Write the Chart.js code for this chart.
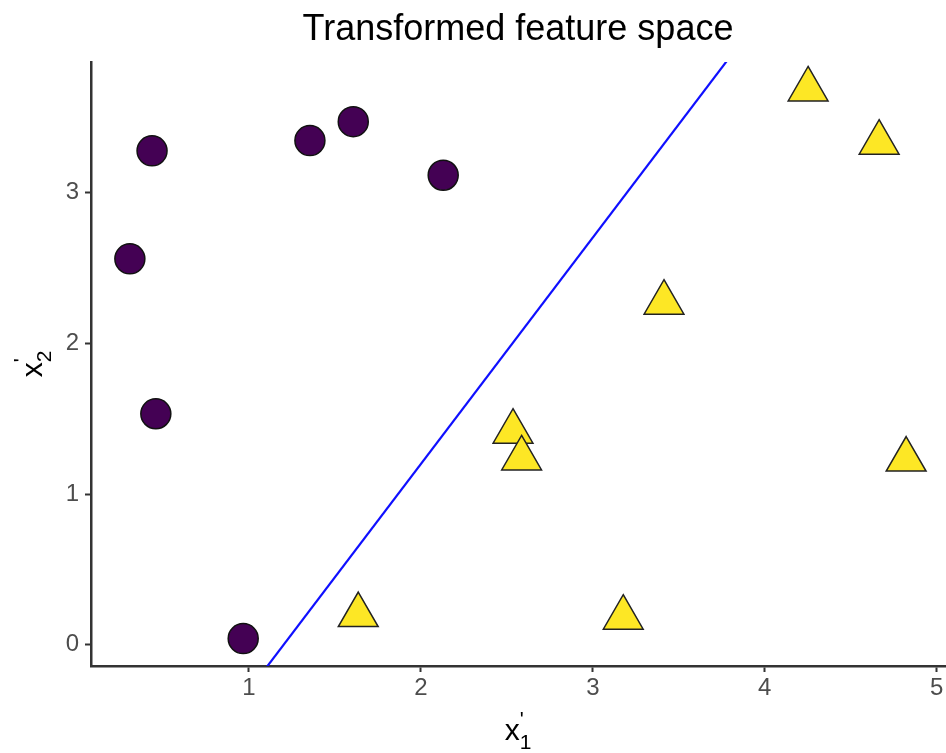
<!DOCTYPE html>
<html>
<head>
<meta charset="utf-8">
<script src="https://cdn.jsdelivr.net/npm/chart.js@4/dist/chart.umd.min.js"></script>
<style>
  html, body { margin: 0; padding: 0; background: #ffffff; }
  #wrap { width: 946px; height: 753px; }
</style>
</head>
<body>
<div id="wrap"><canvas id="c" width="946" height="753"></canvas></div>
<script>
// ---- data ----
const circleX = [0.967, 0.308, 0.437, 0.459, 1.355, 1.607, 2.130];
const circleY = [0.040, 2.562, 3.279, 1.533, 3.347, 3.473, 3.117];

const triangleX = [4.252, 4.665, 3.414, 2.536, 2.586, 4.822, 1.636, 3.177];
const triangleY = [3.687, 3.333, 2.271, 1.414, 1.236, 1.229, 0.196, 0.179];

const boundaryX = [1.00, 3.90];
const boundaryY = [-0.305, 4.057];

const xTickValues = [1, 2, 3, 4, 5];
const yTickValues = [0, 1, 2, 3];

const xLimits = [0.082, 5.048];
const yLimits = [-0.142, 3.869];

const titleText = 'Transformed feature space';

const FONT = '"Liberation Sans", Arial, Helvetica, sans-serif';

const toPoints = (xs, ys) => xs.map((x, i) => ({ x: x, y: ys[i] }));

// custom axis titles: x' with subscript
const axisTitles = {
  id: 'axisTitles',
  afterDraw(chart) {
    const ctx = chart.ctx;
    const a = chart.chartArea;
    const mainFont = '30px ' + FONT;
    const smallFont = '21px ' + FONT;
    ctx.save();
    ctx.fillStyle = '#000000';
    ctx.textBaseline = 'alphabetic';
    ctx.textAlign = 'left';

    function drawLabel(sub) {
      ctx.font = mainFont;
      const wx = ctx.measureText('x').width;
      ctx.font = smallFont;
      const ws = ctx.measureText(sub).width;
      const total = wx + ws;
      const start = -total / 2;
      ctx.font = mainFont;
      ctx.fillText('x', start, 0);
      ctx.font = smallFont;
      ctx.fillText("'", start + wx, -14);
      ctx.fillText(sub, start + wx, 9);
    }

    // x-axis title
    ctx.save();
    ctx.translate((a.left + a.right) / 2, a.bottom + 74);
    drawLabel('1');
    ctx.restore();

    // y-axis title (rotated)
    ctx.save();
    ctx.translate(a.left - 49, (a.top + a.bottom) / 2);
    ctx.rotate(-Math.PI / 2);
    drawLabel('2');
    ctx.restore();

    ctx.restore();
  }
};

new Chart(document.getElementById('c'), {
  type: 'scatter',
  data: {
    datasets: [
      {
        type: 'line',
        data: toPoints(boundaryX, boundaryY),
        borderColor: '#0F0FFF',
        borderWidth: 2.2,
        pointRadius: 0,
        fill: false,
        tension: 0
      },
      {
        data: toPoints(circleX, circleY),
        pointStyle: 'circle',
        pointRadius: 15,
        pointHoverRadius: 15,
        backgroundColor: '#440154',
        borderColor: '#111111',
        borderWidth: 1.5
      },
      {
        data: toPoints(triangleX, triangleY),
        pointStyle: 'triangle',
        pointRadius: 23,
        pointHoverRadius: 23,
        backgroundColor: '#FDE725',
        borderColor: '#222222',
        borderWidth: 1.5
      }
    ]
  },
  options: {
    responsive: false,
    animation: false,
    events: [],
    layout: { autoPadding: false, padding: { left: 0, right: 1, top: 0, bottom: 0 } },
    plugins: {
      legend: { display: false },
      tooltip: { enabled: false },
      title: {
        display: true,
        text: titleText,
        fullSize: false,
        color: '#000000',
        font: { family: FONT, size: 36, weight: 'normal' },
        padding: { top: 8, bottom: 10.8 }
      }
    },
    scales: {
      x: {
        type: 'linear',
        min: xLimits[0],
        max: xLimits[1],
        afterBuildTicks(scale) { scale.ticks = xTickValues.map(v => ({ value: v })); },
        afterFit(scale) {
          scale.height = 87;
          scale.paddingLeft = 0; scale.paddingRight = 0;
        },
        ticks: {
          color: '#4D4D4D',
          font: { family: FONT, size: 24 },
          padding: 2,
          maxRotation: 0,
          autoSkip: false,
          callback: v => String(v)
        },
        grid: {
          display: true,
          drawOnChartArea: false,
          drawTicks: true,
          tickLength: 6,
          tickColor: '#333333',
          tickWidth: 2
        },
        border: { display: true, color: '#333333', width: 2.5 }
      },
      y: {
        type: 'linear',
        min: yLimits[0],
        max: yLimits[1],
        afterBuildTicks(scale) { scale.ticks = yTickValues.map(v => ({ value: v })); },
        afterFit(scale) {
          scale.width = 91;
          scale.paddingTop = 0; scale.paddingBottom = 0;
        },
        ticks: {
          color: '#4D4D4D',
          font: { family: FONT, size: 24 },
          padding: 6,
          autoSkip: false,
          callback: v => String(v)
        },
        grid: {
          display: true,
          drawOnChartArea: false,
          drawTicks: true,
          tickLength: 6,
          tickColor: '#333333',
          tickWidth: 2
        },
        border: { display: true, color: '#333333', width: 2.5 }
      }
    }
  },
  plugins: [axisTitles]
});
</script>
</body>
</html>
